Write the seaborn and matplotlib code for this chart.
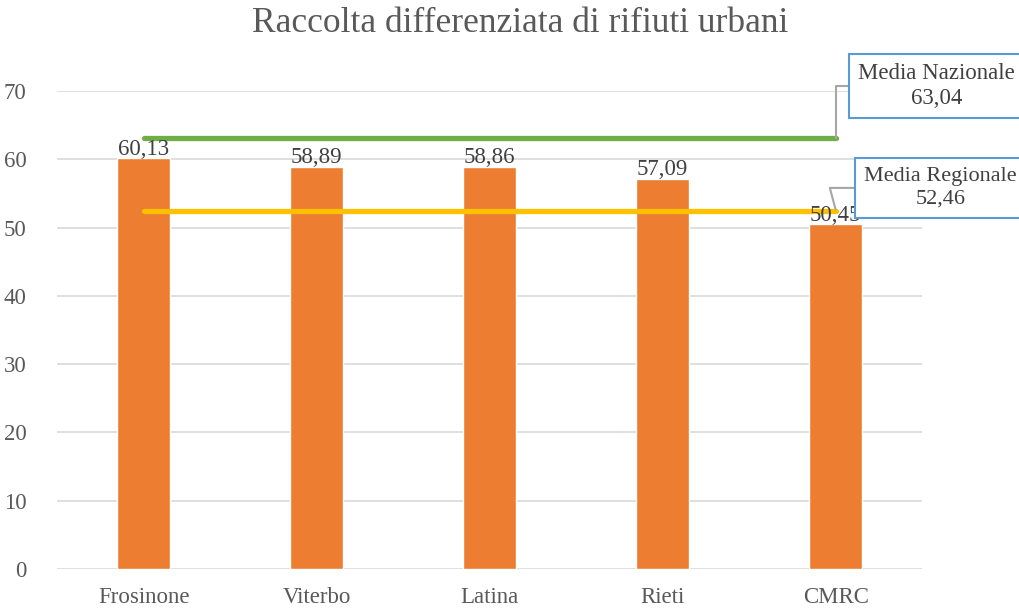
import matplotlib
matplotlib.use("Agg")
import matplotlib.pyplot as plt
import seaborn as sns
import pandas as pd

province = ["Frosinone", "Viterbo", "Latina", "Rieti", "CMRC"]
valori = [60.13, 58.89, 58.86, 57.09, 50.45]
media_nazionale = 63.04
media_regionale = 52.46

df = pd.DataFrame({"provincia": province, "valore": valori})

sns.set_theme(style="white")
plt.rcParams["font.family"] = ["Liberation Serif", "DejaVu Serif"]
testo = "#595959"

fig = plt.figure(figsize=(10.2, 6.1), dpi=100)
ax = fig.add_axes([0.056, 0.067, 0.848, 0.784])

sns.barplot(data=df, x="provincia", y="valore", color="#ED7D31", width=0.31,
            saturation=1, ax=ax, zorder=2)

xs = list(range(len(province)))
ax.plot([xs[0], xs[-1]], [media_nazionale] * 2, color="#70AD47", lw=3.8,
        solid_capstyle="round", zorder=3)
ax.plot([xs[0], xs[-1]], [media_regionale] * 2, color="#FFC000", lw=3.8,
        solid_capstyle="round", zorder=3)

for x, v in zip(xs, valori):
    ax.text(x, v - 0.2, f"{v:.2f}".replace(".", ","), ha="center", va="bottom",
            fontsize=16.5, color="#404040", zorder=4)

ax.set_xlim(-0.5, len(province) - 0.5)
ax.set_ylim(0, 70)
ax.set_yticks(range(0, 71, 10))
ax.yaxis.grid(True, color="#D9D9D9", lw=1.2)
ax.set_axisbelow(True)
for s in ax.spines.values():
    s.set_visible(False)
ax.tick_params(axis="both", length=0, labelsize=16.5, labelcolor=testo)
ax.tick_params(axis="x", pad=13)
ax.tick_params(axis="y", pad=22)
ax.set_xlabel("")
ax.set_ylabel("")

fig.text(0.51, 0.962, "Raccolta differenziata di rifiuti urbani", ha="center",
         va="center", fontsize=25.5, color=testo)

box = dict(boxstyle="square,pad=0.4", fc="white", ec="#5B9BD5", lw=1.5)
ax.annotate(f"Media Nazionale\n{media_nazionale:.2f}".replace(".", ","),
            xy=(xs[-1], media_nazionale), xytext=(4.13, 70.7),
            ha="left", va="center", fontsize=16.5, color="#404040",
            multialignment="center", linespacing=1.25, bbox=box,
            annotation_clip=False,
            arrowprops=dict(arrowstyle="-", color="#A6A6A6", lw=1.5,
                            connectionstyle="angle,angleA=180,angleB=90,rad=0",
                            shrinkA=0, shrinkB=0), zorder=5)
ax.annotate(f"Media Regionale\n{media_regionale:.2f}".replace(".", ","),
            xy=(xs[-1], media_regionale + 0.2), xytext=(4.165, 55.8),
            ha="left", va="center", fontsize=16, color="#404040",
            multialignment="center", linespacing=1.25, bbox=box,
            annotation_clip=False,
            arrowprops=dict(arrowstyle="-", color="#A6A6A6", lw=1.5,
                            connectionstyle="angle,angleA=180,angleB=105,rad=0",
                            shrinkA=0, shrinkB=0), zorder=5)

fig.savefig("out.png", dpi=100)
